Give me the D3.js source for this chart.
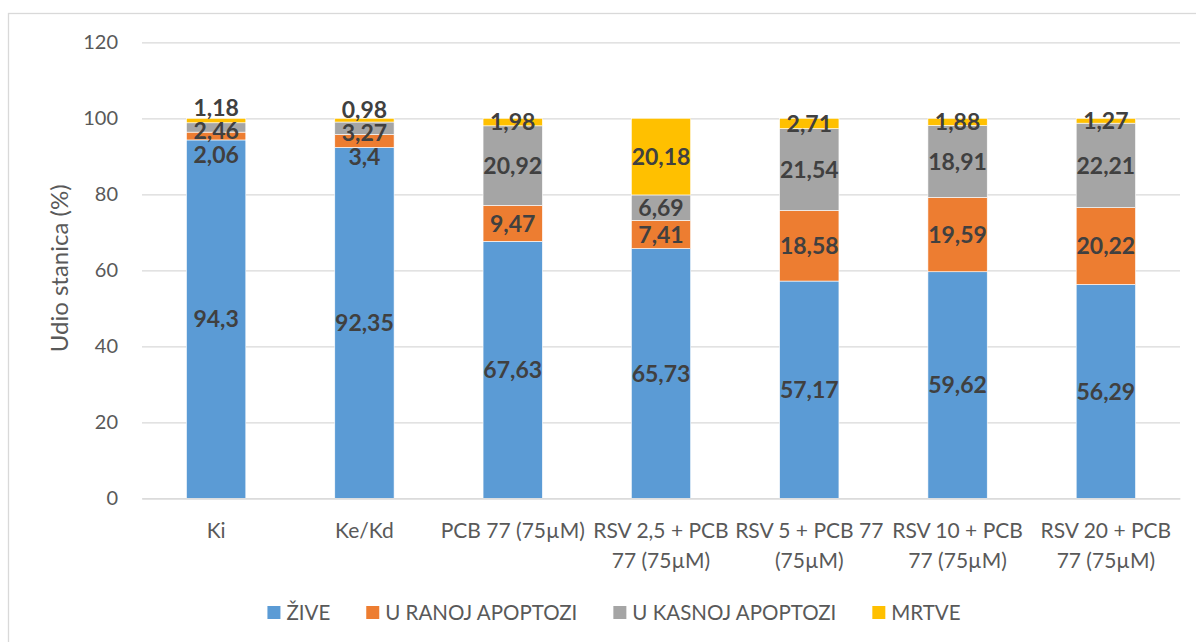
<!DOCTYPE html>
<html>
<head>
<meta charset="utf-8">
<script src="https://cdn.jsdelivr.net/npm/d3@7"></script>
<style>
  body { margin: 0; background: #fff; }
  svg { display: block; font-family: Lato, "Open Sans", sans-serif; }
</style>
</head>
<body>
<div id="chart"></div>
<script>
// Categories (line breaks as they wrap under the bars).
const categories = ["Ki", "Ke/Kd", "PCB 77 (75µM)", "RSV 2,5 + PCB\n77 (75µM)", "RSV 5 + PCB 77\n(75µM)", "RSV 10 + PCB\n77 (75µM)", "RSV 20 + PCB\n77 (75µM)"];

// Series names and values, bottom to top in the stack.
const seriesNames = ["ŽIVE", "U RANOJ APOPTOZI", "U KASNOJ APOPTOZI", "MRTVE"];
const zive = [94.3, 92.35, 67.63, 65.73, 57.17, 59.62, 56.29];
const ranoj = [2.06, 3.4, 9.47, 7.41, 18.58, 19.59, 20.22];
const kasnoj = [2.46, 3.27, 20.92, 6.69, 21.54, 18.91, 22.21];
const mrtve = [1.18, 0.98, 1.98, 20.18, 2.71, 1.88, 1.27];

// Value axis ticks.
const yTicks = [0, 20, 40, 60, 80, 100, 120];

const colors = ["#5B9BD5", "#ED7D31", "#A5A5A5", "#FFC000"];

// Make dimensions for the graph.
let margin = { top: 42.3, right: 16, bottom: 143.7, left: 142 };
let fullWidth = 1196, fullHeight = 642;
let width = 1180 - margin.left;
let height = 498.3 - margin.top;

let root = d3.select("#chart")
    .append("svg")
    .attr("width", fullWidth)
    .attr("height", fullHeight);

// Chart frame.
root.append("rect")
    .attr("x", 8.5).attr("y", 13.5)
    .attr("width", 1300).attr("height", 800)
    .attr("fill", "none")
    .attr("stroke", "#d9d9d9")
    .attr("stroke-width", 1.3);

let svg = root.append("g")
    .attr("transform", "translate(" + margin.left + "," + margin.top + ")");

// Scales.
let x = d3.scaleBand()
    .domain(categories)
    .range([0, width])
    .paddingInner(0.6)
    .paddingOuter(0.3);

let y = d3.scaleLinear()
    .domain([0, 120])
    .range([height, 0]);

// Y axis with gridlines.
let yAxis = svg.append("g")
    .call(d3.axisLeft(y).tickValues(yTicks).tickSize(-width).tickPadding(24));
yAxis.select(".domain").remove();
yAxis.selectAll(".tick line")
    .attr("stroke", "#d9d9d9")
    .attr("stroke-width", 1.3);
yAxis.selectAll(".tick text")
    .attr("fill", "#595959")
    .style("font-size", "20px")
    .style("font-family", "Lato, sans-serif");

// Y axis title.
svg.append("text")
    .attr("transform", "rotate(-90)")
    .attr("x", -height / 2 + 2)
    .attr("y", 60 - margin.left)
    .attr("dy", "0.35em")
    .attr("text-anchor", "middle")
    .attr("fill", "#595959")
    .style("font-size", "24px")
    .text("Udio stanica (%)");

// Stack the series.
const rows = categories.map((c, i) => ({
    cat: c, s0: zive[i], s1: ranoj[i], s2: kasnoj[i], s3: mrtve[i]
}));
const stack = d3.stack().keys(["s0", "s1", "s2", "s3"]);
const layers = stack(rows);

// Draw the segments.
svg.append("g")
    .selectAll("g")
    .data(layers)
    .enter()
    .append("g")
    .attr("fill", (d, i) => colors[i])
    .selectAll("rect")
    .data(d => d)
    .enter()
    .append("rect")
    .attr("x", d => x(d.data.cat))
    .attr("width", x.bandwidth())
    .attr("y", d => y(d[1]))
    .attr("height", d => y(d[0]) - y(d[1]))
    .attr("stroke", "#ffffff")
    .attr("stroke-width", 0.6);

// X axis.
let xAxis = svg.append("g")
    .attr("transform", "translate(0," + height + ")")
    .call(d3.axisBottom(x).tickSize(0).tickPadding(0));
xAxis.select(".domain")
    .attr("stroke", "#d9d9d9")
    .attr("stroke-width", 1.3);
xAxis.selectAll(".tick text")
    .attr("fill", "#595959")
    .style("font-size", "21px")
    .style("font-family", "Lato, sans-serif")
    .attr("y", 0)
    .attr("dy", null)
    .each(function(d) {
        let t = d3.select(this);
        t.text("");
        d.split("\n").forEach((line, k) => {
            t.append("tspan")
                .attr("x", 0)
                .attr("y", 40 + k * 30)
                .text(line);
        });
    });

// Data labels: centred in the segment, spread apart where they would overlap.
const gap = 23.5;
categories.forEach((c, i) => {
    let labels = layers.map((layer, k) => ({
        value: [zive, ranoj, kasnoj, mrtve][k][i],
        pos: y((layer[i][0] + layer[i][1]) / 2)
    }));
    // Sort from top to bottom and merge overlapping groups.
    labels.sort((a, b) => a.pos - b.pos);
    let groups = labels.map(l => ({ items: [l], mean: l.pos }));
    let merged = true;
    while (merged) {
        merged = false;
        for (let g = 0; g < groups.length - 1; g++) {
            let a = groups[g], b = groups[g + 1];
            let aBottom = a.mean + (a.items.length - 1) * gap / 2;
            let bTop = b.mean - (b.items.length - 1) * gap / 2;
            if (bTop - aBottom < gap) {
                let items = a.items.concat(b.items);
                let mean = d3.mean(items, l => l.pos) + 3;
                groups.splice(g, 2, { items: items, mean: mean });
                merged = true;
                break;
            }
        }
    }
    groups.forEach(g => {
        g.items.forEach((l, k) => {
            l.y = g.mean + (k - (g.items.length - 1) / 2) * gap;
        });
    });
    svg.append("g")
        .selectAll("text")
        .data(labels)
        .enter()
        .append("text")
        .attr("x", x(c) + x.bandwidth() / 2)
        .attr("y", d => d.y)
        .attr("dy", "0.36em")
        .attr("text-anchor", "middle")
        .attr("fill", "#404040")
        .style("font-size", "23px")
        .style("font-weight", "bold")
        .text(d => String(d.value).replace(".", ","));
});

// Legend.
let legend = root.append("g");
let lx = 0;
seriesNames.forEach((name, i) => {
    let item = legend.append("g").attr("transform", "translate(" + lx + ",0)");
    item.append("rect")
        .attr("x", 0).attr("y", -6.5)
        .attr("width", 13).attr("height", 13)
        .attr("fill", colors[i]);
    let t = item.append("text")
        .attr("x", 19)
        .attr("dy", "0.36em")
        .attr("fill", "#595959")
        .style("font-size", "20.5px")
        .text(name);
    lx += 19 + t.node().getComputedTextLength() + (i < seriesNames.length - 1 ? 36 : 0);
});
legend.attr("transform", "translate(" + (614 - lx / 2) + ",612.5)");
</script>
</body>
</html>
